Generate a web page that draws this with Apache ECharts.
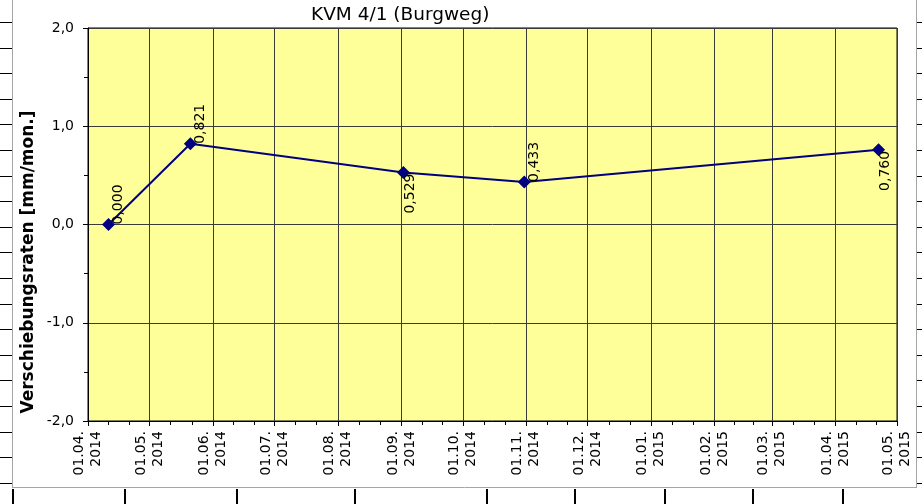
<!DOCTYPE html>
<html><head><meta charset="utf-8">
<script src="https://cdn.jsdelivr.net/npm/echarts@6/dist/echarts.min.js"></script>
<style>html,body{margin:0;padding:0;background:#fff}#c{width:922px;height:504px}</style>
</head><body><div id="c"></div>
<script>
// ---- data ----
const chartTitle = 'KVM 4/1 (Burgweg)';
const yAxisTitle = 'Verschiebungsraten [mm/mon.]';
const measureDates = ['2014-04-11', '2014-05-21', '2014-09-02', '2014-10-31', '2015-04-22'];
const rateValues = [0.000, 0.821, 0.529, 0.433, 0.760];
const labelSides = ['above', 'above', 'below', 'above', 'below'];
const xStart = '2014-04-01';
const xEnd = '2015-05-01';
const yMin = -2, yMax = 2, yStep = 1;

// ---- helpers ----
const FONT = 'DejaVu Sans, Liberation Sans, Arial, sans-serif';
const toTime = s => { const [y, m, d] = s.split('-').map(Number); return new Date(y, m - 1, d).getTime(); };
const pad = n => (n < 10 ? '0' : '') + n;
const DAY = 86400000;

const seriesData = measureDates.map((d, i) => {
  const above = labelSides[i] === 'above';
  return {
    value: [toTime(d), rateValues[i]],
    label: above
      ? { position: [6.5 + 10, 6.5 + 0], align: 'left', verticalAlign: 'middle' }
      : { position: [6.5 + 7, 6.5 + 1], align: 'right', verticalAlign: 'middle' }
  };
});

// decorative spreadsheet frame
const frame = [];
frame.push({ type: 'line', shape: { x1: 12.5, y1: 0, x2: 12.5, y2: 487.5 }, style: { stroke: '#a6a6a6', lineWidth: 1 }, silent: true });
frame.push({ type: 'line', shape: { x1: 916.5, y1: 0, x2: 916.5, y2: 487.5 }, style: { stroke: '#a6a6a6', lineWidth: 1 }, silent: true });
frame.push({ type: 'line', shape: { x1: 12, y1: 487.5, x2: 917, y2: 487.5 }, style: { stroke: '#a6a6a6', lineWidth: 1 }, silent: true });
for (let k = 0; k < 19; k++) {
  const y = Math.round(22 + 25.6 * k) + 0.5;
  frame.push({ type: 'line', shape: { x1: 0, y1: y, x2: 12, y2: y }, style: { stroke: '#000', lineWidth: 1 }, silent: true });
  frame.push({ type: 'line', shape: { x1: 917, y1: y, x2: 922, y2: y }, style: { stroke: '#000', lineWidth: 1 }, silent: true });
}
[13, 125, 237, 355, 487, 575, 665, 753, 843].forEach(x => {
  frame.push({ type: 'line', shape: { x1: x, y1: 489, x2: x, y2: 504 }, style: { stroke: '#000', lineWidth: 2 }, silent: true });
});

const chart = echarts.init(document.getElementById('c'), null, { renderer: 'canvas' });
chart.setOption({
  animation: false,
  backgroundColor: '#fff',
  textStyle: { fontFamily: FONT },
  title: {
    text: chartTitle, left: 311, top: 6, padding: 0,
    textStyle: { fontFamily: FONT, fontSize: 18.5, fontWeight: 'normal', color: '#000' }
  },
  grid: {
    left: 88, right: 25, top: 28, bottom: 83,
    show: true, backgroundColor: '#FFFF99', borderColor: '#000', borderWidth: 1
  },
  xAxis: {
    type: 'time',
    min: toTime(xStart), max: toTime(xEnd),
    splitNumber: 13,
    minInterval: 28 * DAY, maxInterval: 31 * DAY,
    axisLine: { show: true, onZero: false, lineStyle: { color: '#000', width: 1 } },
    axisTick: { show: true, length: 5, inside: false, lineStyle: { color: '#000' } },
    minorTick: { show: true, splitNumber: 3, length: 4, lineStyle: { color: '#000' } },
    splitLine: { show: true, lineStyle: { color: '#3a3a3a', width: 1 } },
    axisLabel: {
      rotate: 90, margin: 10, fontSize: 14, lineHeight: 17, color: '#000', fontFamily: FONT,
      showMinLabel: true, showMaxLabel: true, hideOverlap: false,
      formatter: v => { const d = new Date(v); return pad(d.getDate()) + '.' + pad(d.getMonth() + 1) + '.\n' + d.getFullYear(); }
    }
  },
  yAxis: {
    type: 'value', min: yMin, max: yMax, interval: yStep,
    axisLine: { show: true, onZero: false, lineStyle: { color: '#000', width: 1 } },
    axisTick: { show: true, length: 5, lineStyle: { color: '#000' } },
    minorTick: { show: true, splitNumber: 2, length: 4, lineStyle: { color: '#000' } },
    splitLine: { show: true, lineStyle: { color: '#3a3a3a', width: 1 } },
    axisLabel: {
      margin: 14, fontSize: 14, color: '#000', fontFamily: FONT,
      formatter: v => v.toFixed(1).replace('.', ',')
    }
  },
  graphic: frame.concat([{
    type: 'text', x: 29, y: 262, rotation: Math.PI / 2,
    style: { text: yAxisTitle, font: 'bold 17px ' + FONT, fill: '#000', textAlign: 'center', textVerticalAlign: 'middle' }
  }]),
  series: [{
    type: 'line',
    data: seriesData,
    color: '#000080',
    lineStyle: { color: '#000080', width: 2 },
    symbol: 'diamond', symbolSize: 13,
    itemStyle: { color: '#000080' },
    showAllSymbol: true,
    label: {
      show: true, rotate: 90, fontSize: 14, color: '#000', fontFamily: FONT,
      formatter: p => p.value[1].toFixed(3).replace('.', ',')
    }
  }]
});
</script>
</body></html>
